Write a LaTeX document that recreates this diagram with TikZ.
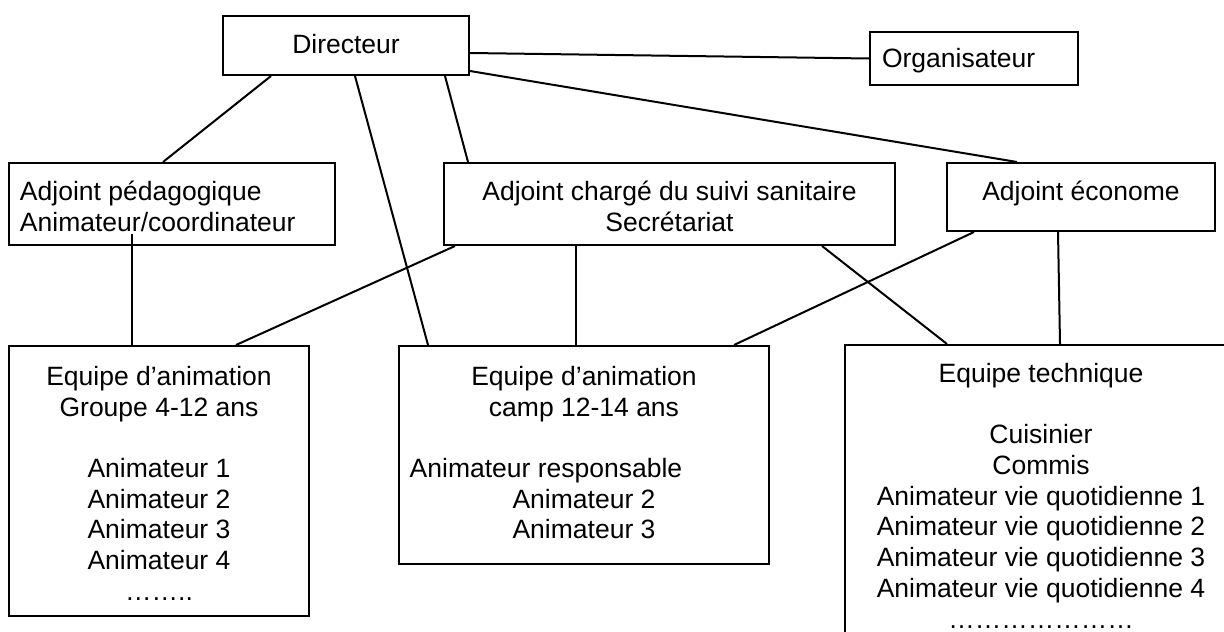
\documentclass[tikz,border=0pt]{standalone}
\usepackage{fontspec}
\setmainfont{Liberation Sans}
\usetikzlibrary{calc}

% fixed size box content: width, height, top pad, alignment, text
\newcommand{\boxtext}[5]{\parbox[c][#2][t]{#1}{\vspace*{#3}#4\strut#5}}

\tikzset{
  box/.style={draw, line width=1pt, inner sep=0pt, anchor=north west},
  conn/.style={line width=1pt}
}

\begin{document}
\begin{tikzpicture}[x=0.5pt, y=-0.5pt, font=\fontsize{13.25pt}{15.35pt}\selectfont]
    \useasboundingbox (0,0) rectangle (1224,631);
    \clip (0,0) rectangle (1224,631);

    % Top
    \node[box] (dir) at (222,15) {\boxtext{123pt}{29.5pt}{8.25pt}{\centering}{Directeur}};
    \node[box] (org) at (869,31) {\boxtext{104pt}{26.5pt}{7pt}{\raggedright\leftskip=6pt}{Organisateur}};

    % Adjoints
    \node[box] (peda) at (8,162) {\boxtext{163pt}{41pt}{8pt}{\raggedright\leftskip=5.5pt}{Adjoint pédagogique\\Animateur/coordinateur}};
    \node[box] (charge) at (443,162) {\boxtext{225.5pt}{41pt}{8pt}{\centering}{Adjoint chargé du suivi sanitaire\\Secrétariat}};
    \node[box] (econ) at (946,162) {\boxtext{134pt}{34pt}{8pt}{\centering}{Adjoint économe}};

    % Equipes
    \node[box] (eqA) at (8,345) {\boxtext{150pt}{135pt}{9pt}{\centering}{Equipe d’animation\\Groupe 4-12 ans\\[15.35pt]Animateur 1\\Animateur 2\\Animateur 3\\Animateur 4\\……..}};
    \node[box] (camp) at (398,345) {\boxtext{185pt}{109pt}{9pt}{\centering}{Equipe d’animation\\camp 12-14 ans\\[15.35pt]\hspace*{-38pt}Animateur responsable\\Animateur 2\\Animateur 3}};
    \node[box] (tech) at (844,344) {\boxtext{196pt}{160pt}{8pt}{\centering}{Equipe technique\\[15.35pt]Cuisinier\\Commis\\Animateur vie quotidienne 1\\Animateur vie quotidienne 2\\Animateur vie quotidienne 3\\Animateur vie quotidienne 4\\…………………}};

    % Links from Directeur
    \draw[conn] (dir.east |- 0,53) -- (org.west);
    \draw[conn] (dir.east |- 0,71) -- (econ.north -| 1017,0);
    \draw[conn] (dir.south -| 271,0) -- (peda.north -| 163,0);
    \draw[conn] (dir.south -| 355,0) -- (camp.north -| 428,0);
    \draw[conn] (dir.south -| 445,0) -- (charge.north -| 468,0);

    % Links from Adjoints
    \draw[conn] ($(peda.south -| 132,0)+(0,-12)$) -- (eqA.north -| 132,0);
    \draw[conn] (charge.south -| 455,0) -- (eqA.north -| 236,0);
    \draw[conn] (charge.south -| 576,0) -- (camp.north -| 576,0);
    \draw[conn] (charge.south -| 822,0) -- (tech.north -| 947,0);
    \draw[conn] (econ.south -| 974,0) -- (camp.north -| 734,0);
    \draw[conn] (econ.south -| 1058,0) -- (tech.north -| 1060,0);
\end{tikzpicture}
\end{document}
